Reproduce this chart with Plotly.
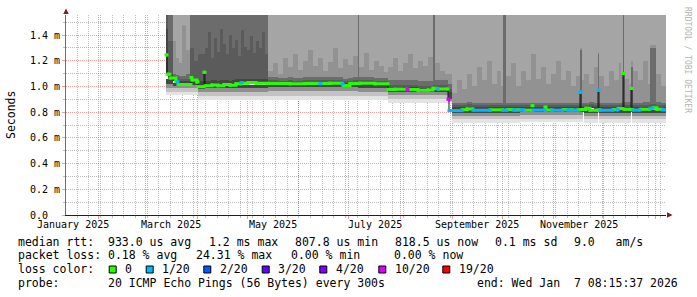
import plotly.graph_objects as go
import pandas as pd

# ---------------- data ----------------
graph_start = "2025-01-12 08:15:37"
graph_end = "2026-01-07 08:15:37"
time_origin = "2025-01-01 00:00:00"   # every *_doy value = days since this instant

y_tick_vals = [0.0, 0.2, 0.4, 0.6, 0.8, 1.0, 1.2, 1.4]          # milliseconds
y_tick_text = ["0.0  ", "0.2 m", "0.4 m", "0.6 m", "0.8 m", "1.0 m", "1.2 m", "1.4 m"]
y_minor_vals = [0.1, 0.3, 0.5, 0.7, 0.9, 1.1, 1.3, 1.5]
y_top = 1.5556

x_label_months = ["2025-01-01", "2025-03-01", "2025-05-01", "2025-07-01", "2025-09-01", "2025-11-01"]
x_label_text = ["January 2025", "March 2025", "May 2025", "July 2025", "September 2025", "November 2025"]

# lower smoke (pings below the median), ms
lo_doy = [71.34, 75.54, 85.74, 90.54, 94.74, 132.54, 186.54, 204.54, 240.54, 242.94,
          283.74, 321.54, 322.14, 330.54, 331.14, 350.34, 350.94]
lo_p1 = [0.93, 0.935, 0.93, 0.895, 0.895, 0.897, 0.893, 0.868, 0.87, 0.716,
         0.72, 0.805, 0.718, 0.805, 0.716, 0.805, 0.716]
lo_p2 = [0.955, 0.955, 0.955, 0.925, 0.925, 0.927, 0.924, 0.90, 0.88, 0.745,
         0.748, 0.805, 0.746, 0.805, 0.745, 0.805, 0.745]
lo_p3 = [0.985, 0.985, 0.985, 0.955, 0.96, 0.962, 0.96, 0.93, 0.89, 0.772,
         0.775, 0.805, 0.772, 0.805, 0.772, 0.805, 0.772]
lo_p4 = [1.02, 1.005, 1.01, 0.985, 0.99, 0.992, 0.99, 0.955, 0.90, 0.797,
         0.798, 0.805, 0.797, 0.805, 0.797, 0.805, 0.797]
lo_med = [1.06, 1.03, 1.04, 1.00, 1.012, 1.02, 1.02, 0.975, 0.93, 0.815,
          0.816, 0.815, 0.816, 0.815, 0.816, 0.815, 0.818]

# upper smoke (pings above the median), ms; 1.9 = beyond the top of the chart
up_doy = [71.34, 72.54, 75.54, 77.34, 79.14, 80.94, 83.34, 85.74, 88.14, 90.54,
          94.74, 96.54, 98.34, 100.14, 101.94, 103.74, 105.54, 107.34, 109.14, 110.94,
          112.74, 114.54, 116.34, 118.14, 119.94, 121.74, 123.54, 125.34, 127.14, 128.94, 130.74,
          132.54, 135.54, 138.54, 141.54, 144.54, 147.54, 150.54, 153.54, 156.54, 159.54,
          162.54, 165.54, 168.54, 171.54, 174.54, 177.54, 180.54, 183.54, 186.54, 187.14,
          190.14, 193.14, 196.14, 199.14, 202.14,
          204.54, 207.54, 210.54, 213.54, 216.54, 219.54, 222.54, 225.54, 228.54, 231.54,
          232.74, 235.74, 238.74, 240.54,
          242.94, 245.94, 248.94, 251.94, 254.94, 257.94, 260.94, 263.94, 266.94, 269.94,
          272.94, 273.54, 275.34, 278.34, 281.34, 284.34, 287.34, 290.34, 293.34, 296.34,
          299.34, 302.34, 305.34, 308.34, 311.34, 314.34, 317.34, 319.74, 321.54, 322.14,
          325.14, 328.14, 330.54, 331.14, 334.14, 337.14, 340.14, 343.14, 344.94, 345.54,
          346.14, 349.14, 350.34, 351.54, 354.54, 357.54, 360.54, 361.74, 365.34, 368.34]
up_base = [1.10, 1.06, 1.04, 1.03, 1.02, 1.02, 1.02, 1.04, 1.03, 1.00,
           1.012, 1.01, 1.012, 1.015, 1.012, 1.015, 1.018, 1.015, 1.012, 1.015,
           1.02, 1.022, 1.025, 1.025, 1.028, 1.028, 1.025, 1.025, 1.028, 1.025, 1.022,
           1.022, 1.022, 1.02, 1.02, 1.022, 1.02, 1.02, 1.022, 1.022, 1.022,
           1.022, 1.024, 1.025, 1.025, 1.022, 1.012, 1.02, 1.022, 1.022, 1.025,
           1.025, 1.022, 1.02, 1.02, 1.02,
           0.978, 0.978, 0.978, 0.976, 0.975, 0.975, 0.972, 0.972, 0.973, 0.985,
           0.983, 0.98, 0.98, 0.93,
           0.812, 0.818, 0.82, 0.825, 0.815, 0.815, 0.815, 0.815, 0.818, 0.818,
           0.818, 0.815, 0.82, 0.816, 0.818, 0.816, 0.815, 0.815, 0.816, 0.816,
           0.817, 0.815, 0.815, 0.82, 0.816, 0.818, 0.815, 0.818, 0.82, 0.82,
           0.83, 0.815, 0.818, 0.818, 0.815, 0.815, 0.82, 0.82, 0.828, 0.828,
           0.822, 0.822, 0.82, 0.816, 0.816, 0.822, 0.822, 0.83, 0.822, 0.818]
up_q1 = [1.45, 1.10, 1.06, 1.05, 1.04, 1.04, 1.04, 1.08, 1.06, 1.04,
         1.045, 1.045, 1.05, 1.05, 1.045, 1.05, 1.05, 1.05, 1.045, 1.05,
         1.055, 1.055, 1.06, 1.06, 1.06, 1.06, 1.06, 1.055, 1.06, 1.055, 1.055,
         1.04, 1.04, 1.035, 1.035, 1.04, 1.035, 1.035, 1.04, 1.04, 1.04,
         1.04, 1.04, 1.04, 1.04, 1.04, 1.03, 1.035, 1.04, 1.04, 1.04,
         1.04, 1.04, 1.035, 1.035, 1.035,
         0.995, 0.995, 0.995, 0.993, 0.992, 0.992, 0.99, 0.99, 0.99, 1.0,
         0.998, 0.995, 0.995, 0.96,
         0.84, 0.84, 0.84, 0.845, 0.84, 0.84, 0.84, 0.84, 0.84, 0.84,
         0.84, 0.84, 0.84, 0.84, 0.84, 0.84, 0.84, 0.84, 0.84, 0.84,
         0.84, 0.84, 0.84, 0.84, 0.84, 0.84, 0.84, 0.84, 0.84, 0.84,
         0.85, 0.84, 0.84, 0.84, 0.84, 0.84, 0.84, 0.84, 0.848, 0.848,
         0.842, 0.842, 0.84, 0.84, 0.84, 0.842, 0.842, 0.85, 0.842, 0.84]
up_q2 = [1.9, 1.35, 1.08, 1.07, 1.06, 1.06, 1.06, 1.30, 1.20, 1.25,
         1.30, 1.42, 1.22, 1.38, 1.27, 1.45, 1.33, 1.25, 1.40, 1.30,
         1.36, 1.24, 1.44, 1.31, 1.28, 1.39, 1.26, 1.35, 1.30, 1.42, 1.25,
         1.05, 1.05, 1.045, 1.045, 1.05, 1.045, 1.045, 1.05, 1.05, 1.05,
         1.05, 1.05, 1.05, 1.05, 1.05, 1.04, 1.045, 1.05, 1.05, 1.05,
         1.05, 1.05, 1.045, 1.045, 1.045,
         1.01, 1.01, 1.01, 1.01, 1.01, 1.01, 1.005, 1.005, 1.005, 1.015,
         1.015, 1.01, 1.01, 0.98,
         0.855, 0.855, 0.855, 0.86, 0.855, 0.855, 0.855, 0.855, 0.855, 0.855,
         0.855, 0.855, 0.855, 0.855, 0.855, 0.855, 0.855, 0.855, 0.855, 0.855,
         0.855, 0.855, 0.855, 0.855, 0.855, 0.855, 0.855, 0.855, 0.855, 0.855,
         0.862, 0.855, 0.855, 0.855, 0.855, 0.855, 0.855, 0.855, 0.862, 0.862,
         0.857, 0.857, 0.855, 0.855, 0.855, 0.857, 0.857, 0.862, 0.857, 0.855]
up_q3 = [1.9, 1.9, 1.10, 1.09, 1.08, 1.08, 1.10, 1.9, 1.9, 1.9,
         1.9, 1.9, 1.9, 1.9, 1.9, 1.9, 1.9, 1.9, 1.9, 1.9,
         1.9, 1.9, 1.9, 1.9, 1.9, 1.9, 1.9, 1.9, 1.9, 1.9, 1.9,
         1.07, 1.07, 1.065, 1.065, 1.07, 1.065, 1.065, 1.07, 1.07, 1.07,
         1.07, 1.07, 1.07, 1.07, 1.07, 1.06, 1.065, 1.07, 1.9, 1.07,
         1.07, 1.07, 1.065, 1.065, 1.065,
         1.05, 1.05, 1.05, 1.05, 1.05, 1.05, 1.045, 1.045, 1.045, 1.9,
         1.05, 1.05, 1.05, 1.02,
         0.875, 0.875, 0.875, 0.88, 0.875, 0.875, 0.875, 0.875, 0.875, 0.875,
         0.875, 1.9, 0.875, 0.875, 0.875, 0.875, 0.875, 0.875, 0.875, 0.875,
         0.875, 0.875, 0.875, 0.875, 0.875, 0.875, 0.875, 1.28, 0.875, 0.875,
         0.88, 0.875, 1.25, 0.875, 0.875, 0.875, 0.875, 0.875, 0.88, 1.9,
         0.877, 0.877, 1.15, 0.875, 0.875, 0.877, 0.877, 1.30, 0.877, 0.875]
up_q4 = [1.9, 1.9, 1.35, 1.22, 1.18, 1.48, 1.28, 1.9, 1.9, 1.9,
         1.9, 1.9, 1.9, 1.9, 1.9, 1.9, 1.9, 1.9, 1.9, 1.9,
         1.9, 1.9, 1.9, 1.9, 1.9, 1.9, 1.9, 1.9, 1.9, 1.9, 1.9,
         1.12, 1.18, 1.10, 1.22, 1.15, 1.25, 1.13, 1.20, 1.28, 1.16,
         1.22, 1.12, 1.19, 1.30, 1.14, 1.21, 1.17, 1.24, 1.9, 1.15,
         1.26, 1.13, 1.20, 1.16, 1.11,
         1.15, 1.22, 1.12, 1.18, 1.25, 1.14, 1.20, 1.16, 1.23, 1.9,
         1.18, 1.12, 1.10, 1.10,
         0.95, 1.05, 0.98, 1.10, 1.00, 1.15, 1.05, 1.20, 1.02, 1.12,
         1.00, 1.9, 1.08, 1.18, 1.00, 1.12, 1.05, 1.25, 1.06, 1.15,
         1.02, 1.10, 1.20, 1.05, 1.12, 1.00, 1.08, 1.30, 1.05, 1.10,
         1.02, 1.15, 1.27, 1.08, 1.00, 1.12, 1.05, 1.18, 1.10, 1.9,
         1.06, 1.02, 1.20, 1.12, 1.05, 1.20, 1.02, 1.32, 1.10, 1.00]

# median rtt and its packet loss bucket (index into loss_labels)
med_doy = [71.34, 71.94, 73.74, 77.34, 77.94, 78.54, 86.34, 86.94, 89.94, 90.54,
           94.14, 94.74, 98.94, 102.54, 106.14, 109.74, 113.34, 116.34, 116.94, 120.54,
           125.34, 132.54, 145.74, 154.74, 163.74, 164.34, 169.74, 176.94, 177.54, 181.74,
           187.74, 196.74, 204.54, 208.74, 215.94, 216.54, 222.54, 228.54, 231.54, 233.94,
           234.54, 240.54, 241.14, 248.94, 251.94, 255.54, 265.74, 273.54, 275.94, 279.54,
           281.34, 283.74, 286.14, 290.94, 291.54, 298.74, 299.34, 302.94, 309.54, 311.94,
           313.74, 315.54, 317.94, 319.74, 320.34, 323.34, 325.74, 330.54, 331.14, 331.74,
           339.54, 341.94, 342.54, 345.54, 346.14, 350.34, 350.94, 351.54, 355.74, 361.74,
           363.54, 365.94, 368.94]
med_val = [1.245, 1.095, 1.065, 1.04, 1.035, 1.015, 1.07, 1.05, 1.035, 0.998,
           1.11, 1.005, 1.012, 1.005, 1.015, 1.01, 1.02, 1.03, 1.025, 1.03,
           1.025, 1.022, 1.02, 1.023, 1.022, 1.022, 1.025, 1.02, 1.008, 1.022,
           1.025, 1.02, 0.977, 0.978, 0.975, 0.977, 0.97, 0.973, 0.985, 0.983,
           0.98, 0.90, 0.812, 0.818, 0.825, 0.815, 0.818, 0.815, 0.82, 0.816,
           0.818, 0.817, 0.815, 0.85, 0.816, 0.84, 0.817, 0.815, 0.82, 0.816,
           0.818, 0.815, 0.818, 0.955, 0.82, 0.83, 0.815, 0.97, 0.818, 0.815,
           0.82, 0.818, 0.828, 1.10, 0.822, 0.985, 0.82, 0.816, 0.822, 0.83,
           0.835, 0.822, 0.818]
med_loss = [0, 0, 0, 0, 1, 0, 0, 0, 0, 0,
            0, 0, 0, 0, 0, 0, 0, 1, 0, 0,
            0, 0, 0, 0, 1, 0, 0, 1, 0, 0,
            0, 0, 0, 0, 5, 0, 0, 0, 0, 1,
            0, 5, 1, 0, 0, 1, 0, 1, 0, 1,
            0, 1, 0, 0, 1, 0, 0, 1, 0, 1,
            0, 1, 0, 1, 0, 0, 0, 1, 0, 1,
            0, 1, 0, 0, 0, 0, 0, 1, 0, 1,
            0, 0, 1]

# legend
stats_line1 = ["median rtt:  933.0 us avg", "1.2 ms max", "807.8 us min",
               "818.5 us now", "0.1 ms sd", "9.0   am/s"]
stats_line2 = ["packet loss: 0.18 % avg", "24.31 % max", "0.00 % min", "0.00 % now"]
loss_title = "loss color:"
loss_labels = ["0", "1/20", "2/20", "3/20", "4/20", "10/20", "19/20"]
loss_colors = ["#26ff00", "#00b8ff", "#0059ff", "#5e00ff", "#7e00ff", "#dd00ff", "#ff0000"]
probe_text = "probe:       20 ICMP Echo Pings (56 Bytes) every 300s"
end_text = "end: Wed Jan  7 08:15:37 2026"
y_title = "Seconds"
watermark = "RRDTOOL / TOBI OETIKER"

# ---------------- layout geometry (pixels) ----------------
W, H = 697, 297
ML, MR, MT, MB = 66, 31, 15, 82
PW, PH = W - ML - MR, H - MT - MB
FONT = "DejaVu Sans Mono"
LEG_SIZE = 11.5
AX_SIZE = 10

L1_X = [16, 206.5, 293, 393, 493, 572]
L2_X = [16, 193.5, 289, 392]
SW_X = [108.7, 145.7, 203.3, 261.7, 319.3, 378.3, 442.3]
LINE_Y = [241.5, 255, 269, 283]
GRID = "rgba(143,143,143,0.6)"
MGRID = "rgba(222,79,79,0.55)"


def px(x):
    return (x - ML) / PW


def py(y):
    return (MT + PH - y) / PH


def nb(s):
    return s.replace(" ", "\u00a0")


t_origin = pd.Timestamp(time_origin)
t_start = pd.Timestamp(graph_start)
t_end = pd.Timestamp(graph_end)


def segments(doy):
    starts = [t_origin + pd.Timedelta(days=d) for d in doy]
    ends = starts[1:] + [t_end]
    centers = [s + (e - s) / 2 for s, e in zip(starts, ends)]
    widths = [(e - s).total_seconds() * 1000.0 for s, e in zip(starts, ends)]
    return starts, ends, centers, widths


fig = go.Figure()


def add_band(cen, wid, lo, hi, color):
    fig.add_trace(go.Bar(
        x=cen, base=lo, y=[max(h - l, 0) for l, h in zip(lo, hi)], width=wid,
        marker=dict(color=color, line=dict(width=0)),
        hoverinfo="skip", showlegend=False))


_, _, lc, lw = segments(lo_doy)
add_band(lc, lw, lo_p1, lo_p2, "#e3e3e3")
add_band(lc, lw, lo_p2, lo_p3, "#c3c3c3")
add_band(lc, lw, lo_p3, lo_p4, "#8f8f8f")
add_band(lc, lw, lo_p4, lo_med, "#474747")

_, _, uc, uw = segments(up_doy)
add_band(uc, uw, up_base, up_q1, "#454545")
add_band(uc, uw, up_q1, up_q2, "#5b5b5b")
add_band(uc, uw, up_q2, up_q3, "#6c6c6c")
add_band(uc, uw, up_q3, up_q4, "#929292")
add_band(uc, uw, up_q4, [y_top] * len(up_q4), "#a5a5a5")

# median: thin dark step line, then thick loss-coloured runs
ms, me, _, _ = segments(med_doy)
fig.add_trace(go.Scatter(
    x=ms + [t_end], y=med_val + [med_val[-1]], mode="lines",
    line=dict(color="#1a1a1a", width=1, shape="hv"),
    hoverinfo="skip", showlegend=False))

runs = []
for i, (s, e, v, l) in enumerate(zip(ms, me, med_val, med_loss)):
    if runs and runs[-1]["loss"] == l and abs(runs[-1]["y"][-1] - v) < 0.03:
        r = runs[-1]
        r["x"][-1] = s
        r["y"][-1] = v
        r["x"].append(e)
        r["y"].append(v)
    else:
        runs.append(dict(loss=l, x=[s, e], y=[v, v]))

for k, col in enumerate(loss_colors):
    xs, ys = [], []
    for r in runs:
        if r["loss"] == k:
            xs += r["x"] + [None]
            ys += r["y"] + [None]
    if xs:
        fig.add_trace(go.Scatter(
            x=xs, y=ys, mode="lines+markers",
            line=dict(color=col, width=3, shape="hv"),
            marker=dict(symbol="square", size=3, color=col),
            hoverinfo="skip", showlegend=False))

# loss colour swatches
shapes = []
for x0, col in zip(SW_X, loss_colors):
    shapes.append(dict(type="rect", xref="paper", yref="paper",
                       x0=px(x0 + 0.5), x1=px(x0 + 7.5), y0=py(273), y1=py(266),
                       fillcolor=col, line=dict(color="#000000", width=1), layer="above"))

# ---------------- annotations ----------------
ann = []


def txt(x, y, s, size=LEG_SIZE, xanchor="left", color="#000000", angle=0):
    ann.append(dict(x=x, y=y, xref="paper", yref="paper", text=nb(s), showarrow=False,
                    xanchor=xanchor, yanchor="middle", textangle=angle,
                    font=dict(family=FONT, size=size, color=color)))


for s, x in zip(stats_line1, L1_X):
    txt(px(x), py(LINE_Y[0]), s)
for s, x in zip(stats_line2, L2_X):
    txt(px(x), py(LINE_Y[1]), s)
txt(px(16), py(LINE_Y[2]), loss_title)
for s, x in zip(loss_labels, SW_X):
    txt(px(x + 14.4), py(LINE_Y[2]), s)
txt(px(16), py(LINE_Y[3]), probe_text)
txt(px(680), py(LINE_Y[3]), end_text, xanchor="right")

# month labels centred in their month, as rrdtool does
for m, s in zip(x_label_months, x_label_text):
    a = pd.Timestamp(m)
    b = a + pd.offsets.MonthBegin(1)
    ann.append(dict(x=a + (b - a) / 2, y=py(224), xref="x", yref="paper", text=nb(s),
                    showarrow=False, xanchor="center", yanchor="middle",
                    font=dict(family=FONT, size=AX_SIZE, color="#000000")))

txt(px(11), 0.5, y_title, xanchor="center", angle=-90)
ann.append(dict(x=px(687), y=py(60), xref="paper", yref="paper", text=nb(watermark),
                showarrow=False, xanchor="center", yanchor="middle", textangle=90,
                font=dict(family=FONT, size=8, color="#b3b3b3")))

# axis arrows
ann.append(dict(x=px(672.5), y=0, xref="paper", yref="paper", text="", showarrow=True,
                ax=-7, ay=0, arrowhead=2, arrowsize=1.1, arrowwidth=1, arrowcolor="#801f1f"))
ann.append(dict(x=0, y=py(8.5), xref="paper", yref="paper", text="", showarrow=True,
                ax=0, ay=7, arrowhead=2, arrowsize=1.1, arrowwidth=1, arrowcolor="#801f1f"))

month_lines = list(pd.date_range("2025-02-01", "2026-01-01", freq="MS"))
week_lines = list(pd.date_range("2025-01-19", "2026-01-07", freq="7D"))

fig.update_layout(
    width=W, height=H, margin=dict(l=ML, r=MR, t=MT, b=MB, pad=0),
    paper_bgcolor="#ffffff", plot_bgcolor="#ffffff",
    font=dict(family=FONT, size=AX_SIZE, color="#000000"),
    barmode="overlay", bargap=0, showlegend=False,
    shapes=shapes, annotations=ann,
    xaxis=dict(type="date", range=[t_start, t_end], zeroline=False,
               showline=True, linecolor="#1f1f1f", linewidth=1,
               tickvals=month_lines, ticktext=[""] * len(month_lines),
               ticks="outside", ticklen=3, tickcolor=MGRID, showticklabels=False,
               showgrid=True, gridcolor=MGRID, gridwidth=1, griddash="1px,1px",
               minor=dict(tickvals=week_lines, showgrid=True, gridcolor=GRID,
                          gridwidth=1, griddash="1px,1px", ticks="outside",
                          ticklen=2, tickcolor=GRID),
               layer="above traces"),
    yaxis=dict(range=[0, y_top], zeroline=False,
               showline=True, linecolor="#6f6f6f", linewidth=1,
               tickvals=y_tick_vals, ticktext=[nb(t) for t in y_tick_text],
               ticks="outside", ticklen=3, tickcolor=MGRID,
               showgrid=True, gridcolor=MGRID, gridwidth=1, griddash="1px,1px",
               minor=dict(tickvals=y_minor_vals, showgrid=True, gridcolor=GRID,
                          gridwidth=1, griddash="1px,1px", ticks="outside",
                          ticklen=2, tickcolor=GRID),
               tickfont=dict(family=FONT, size=AX_SIZE, color="#000000"),
               layer="above traces"),
)

fig.write_html("out.html", include_plotlyjs=True, config={"displayModeBar": False})
